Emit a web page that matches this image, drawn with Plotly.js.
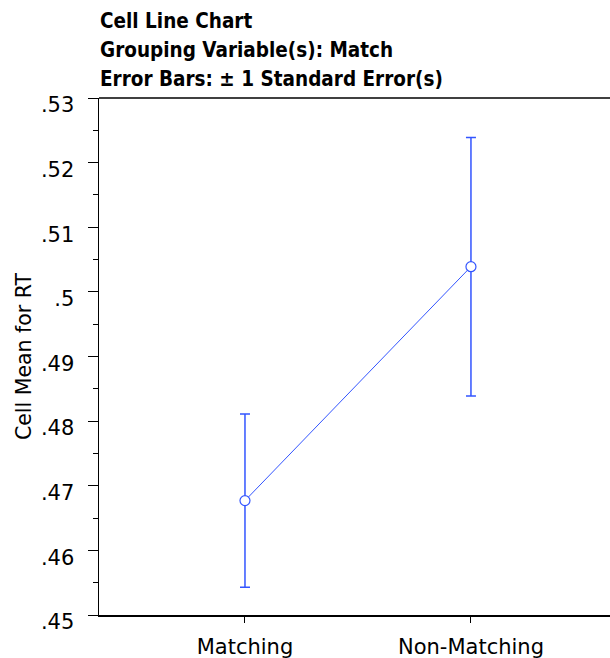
<!DOCTYPE html>
<html>
<head>
<meta charset="utf-8">
<script src="https://cdn.plot.ly/plotly-3.0.1.min.js"></script>
<style>html,body{margin:0;padding:0;background:#fff;overflow:hidden;}#chart{width:614px;height:658px;}</style>
</head>
<body>
<div id="chart"></div>
<script>
const categories = ["Matching", "Non-Matching"];
const cellMeans = [0.4677, 0.5039];
const stdErrors = [0.0134, 0.0200];
const yTickVals = [0.45, 0.46, 0.47, 0.48, 0.49, 0.50, 0.51, 0.52, 0.53];
const yTickText = [".45", ".46", ".47", ".48", ".49", ".5", ".51", ".52", ".53"];
const titleLines = ["Cell Line Chart", "Grouping Variable(s): Match", "Error Bars: ± 1 Standard Error(s)"];

const blue = "rgb(51,85,255)";
const trace = {
  type: "scatter",
  mode: "lines+markers",
  x: categories,
  y: cellMeans,
  line: {color: blue, width: 1},
  marker: {symbol: "circle", size: 10, color: "#ffffff", line: {color: blue, width: 1.2}},
  error_y: {type: "data", array: stdErrors, visible: true, color: blue, thickness: 1.5, width: 5},
  hoverinfo: "skip"
};

const W = 614, plotLeft = 99, plotTop = 98, plotBottom = 615, plotH = plotBottom - plotTop, plotW = W - plotLeft;
const titleCenters = [21, 50, 79];
const annotations = titleLines.map((t, i) => ({
  text: t, showarrow: false,
  xref: "paper", x: 0, xanchor: "left", xshift: -1,
  yref: "paper", y: (plotBottom - titleCenters[i]) / plotH, yanchor: "middle",
  font: {family: "DejaVu Sans Condensed, DejaVu Sans, sans-serif", size: 20.5, weight: "bold", color: "#000"}
}));

const layout = {
  width: W, height: 658,
  margin: {l: plotLeft, r: 0, t: plotTop, b: 43},
  paper_bgcolor: "#fff", plot_bgcolor: "#fff",
  showlegend: false,
  font: {family: "DejaVu Sans, sans-serif", color: "#000"},
  annotations: annotations,
  shapes: [
    {type: "rect", layer: "above", xref: "paper", yref: "paper",
     x0: (598 - plotLeft) / plotW, x1: 1, y0: 2 / plotH, y1: 1 - 2 / plotH,
     fillcolor: "#fff", line: {width: 0}},
    {type: "line", layer: "above", xref: "paper", yref: "paper", x0: 0, x1: 1, y0: 1, y1: 1, line: {color: "#000", width: 1.5}}
  ],
  xaxis: {
    type: "category",
    range: [-0.646, 1.633],
    showline: true, linecolor: "#000", linewidth: 1.5,
    showgrid: false, zeroline: false,
    ticks: "outside", ticklen: 6, tickwidth: 1, tickcolor: "#000",
    ticklabelstandoff: 6,
    tickfont: {size: 21, family: "DejaVu Sans, sans-serif", color: "#000"}
  },
  yaxis: {
    range: [0.45, 0.53],
    showline: true, linecolor: "#000", linewidth: 1.5,
    showgrid: false, zeroline: false,
    tickmode: "array", tickvals: yTickVals, ticktext: yTickText,
    ticks: "outside", ticklen: 10, tickwidth: 1, tickcolor: "#000",
    ticklabelstandoff: 9, ticklabelshift: 7,
    minor: {ticks: "outside", dtick: 0.005, ticklen: 5, tickwidth: 1, tickcolor: "#000", showgrid: false},
    tickfont: {size: 21, family: "DejaVu Sans, sans-serif", color: "#000"},
    title: {text: "Cell Mean for RT", font: {size: 20.5, family: "DejaVu Sans, sans-serif", color: "#000"}, standoff: 3}
  }
};

Plotly.newPlot("chart", [trace], layout, {displayModeBar: false, staticPlot: true});
</script>
</body>
</html>
